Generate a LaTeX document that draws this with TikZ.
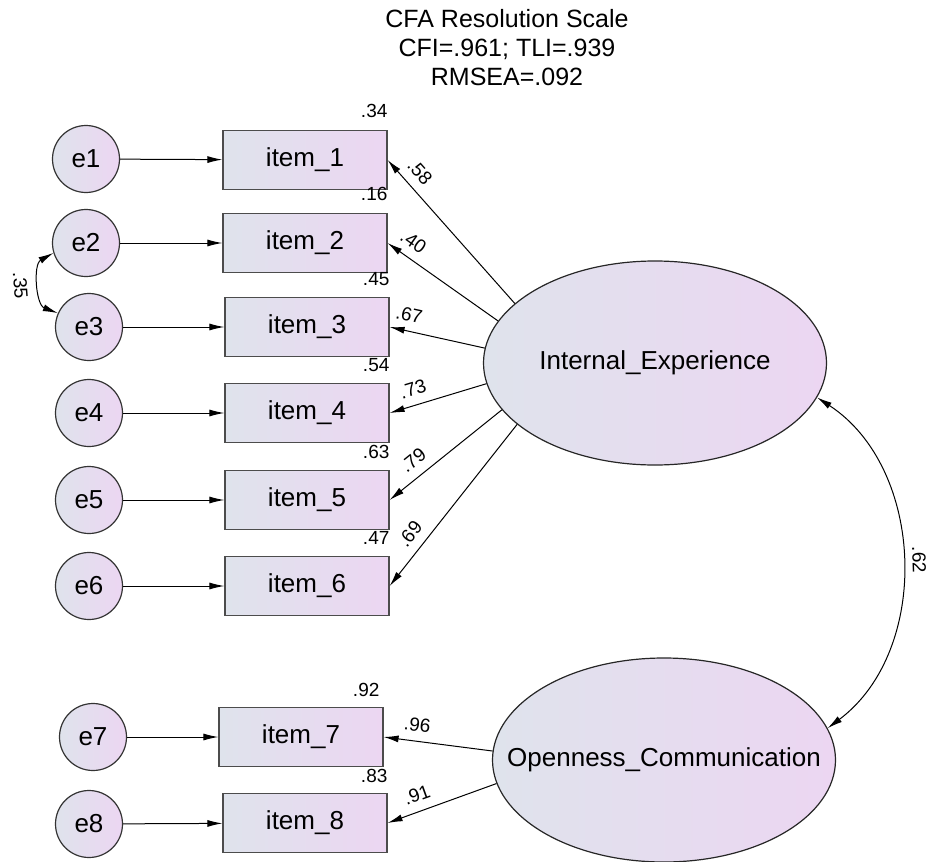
\documentclass[tikz,border=0pt]{standalone}
\usepackage{fontspec}
\setmainfont{Liberation Sans}
\usetikzlibrary{shapes.geometric,arrows.meta}
\definecolor{shadeleft}{RGB}{223,227,236}
\definecolor{shaderight}{RGB}{236,214,242}
\begin{document}
\begin{tikzpicture}[x=1pt,y=1pt,
  err/.style={circle, draw=black!80, line width=1.2pt, minimum size=67pt, inner sep=0pt,
    left color=shadeleft, right color=shaderight, font=\fontsize{26}{30}\selectfont},
  item/.style={rectangle, draw=black!70, line width=1.2pt, minimum width=164pt, minimum height=59pt,
    inner sep=0pt, left color=shadeleft, right color=shaderight, font=\fontsize{26}{30}\selectfont},
  latent/.style={ellipse, draw=black!85, line width=1.2pt, minimum width=343pt, minimum height=204pt,
    inner sep=0pt, left color=shadeleft, right color=shaderight},
  every label/.style={font=\fontsize{26}{30}\selectfont},
  load/.style={-{Latex[length=15pt,width=7pt]}, line width=1pt},
  cov/.style={{Latex[length=15pt,width=7pt]}-{Latex[length=15pt,width=7pt]}, line width=1pt},
  coef/.style={font=\fontsize{19}{22}\selectfont, inner sep=0pt},
  title/.style={align=center, font=\fontsize{25}{29}\selectfont}]
\useasboundingbox (0,0) rectangle (940,-862);
\node[title] (head) at (507,-48) {CFA Resolution Scale\\CFI=.961; TLI=.939\\RMSEA=.092};
% error terms
\node[err] (e1) at (86,-159) {e1};
\node[err] (e2) at (86,-243) {e2};
\node[err] (e3) at (89,-327) {e3};
\node[err] (e4) at (89,-413) {e4};
\node[err] (e5) at (89,-500) {e5};
\node[err] (e6) at (89,-586) {e6};
\node[err] (e7) at (93,-737) {e7};
\node[err] (e8) at (89,-824) {e8};
% observed items
\node[item] (item1) at (305,-160) {item\_1};
\node[item] (item2) at (305,-243) {item\_2};
\node[item] (item3) at (307,-327) {item\_3};
\node[item] (item4) at (307,-413) {item\_4};
\node[item] (item5) at (307,-500) {item\_5};
\node[item] (item6) at (307,-586) {item\_6};
\node[item] (item7) at (301,-737) {item\_7};
\node[item] (item8) at (305,-823) {item\_8};
% latent factors
\node[latent, label=center:Internal\_Experience] (IE) at (655,-363) {};
\node[latent, label=center:Openness\_Communication] (OC) at (664,-760) {};
% squared multiple correlations
\node[coef, anchor=south east] (r1) at ([yshift=12pt]item1.north east) {.34};
\node[coef, anchor=south east] (r2) at ([yshift=12pt]item2.north east) {.16};
\node[coef, anchor=south east] (r3) at ([yshift=11pt]item3.north east) {.45};
\node[coef, anchor=south east] (r4) at ([yshift=11pt]item4.north east) {.54};
\node[coef, anchor=south east] (r5) at ([yshift=11pt]item5.north east) {.63};
\node[coef, anchor=south east] (r6) at ([yshift=11pt]item6.north east) {.47};
\node[coef, anchor=south east] (r7) at ([xshift=-4pt,yshift=10pt]item7.north east) {.92};
\node[coef, anchor=south east] (r8) at ([yshift=10pt]item8.north east) {.83};
% errors to items
\draw[load] (e1) -- (item1);
\draw[load] (e2) -- (item2);
\draw[load] (e3) -- (item3);
\draw[load] (e4) -- (item4);
\draw[load] (e5) -- (item5);
\draw[load] (e6) -- (item6);
\draw[load] (e7) -- (item7);
\draw[load] (e8) -- (item8);
% factor loadings
\draw[load] (IE.157) -- node[coef, pos=.84, sloped, above=9pt] {.58} (item1.east);
\draw[load] (IE.165) -- node[coef, pos=.85, sloped, above=9pt] {.40} (item2.east);
\draw[load] (IE.175) -- node[coef, pos=.83, sloped, above=9pt] {.67} (item3.east);
\draw[load] (IE.187) -- node[coef, pos=.71, sloped, above=9pt] {.73} (item4.east);
\draw[load] (IE.197) -- node[coef, pos=.70, sloped, above=9pt] {.79} (item5.east);
\draw[load] (IE.204) -- node[coef, pos=.74, sloped, above=9pt] {.69} (item6.east);
\draw[load] (OC.177) -- node[coef, pos=.71, sloped, above=9pt] {.96} (item7.east);
\draw[load] (OC.188) -- node[coef, pos=.68, sloped, above=9pt] {.91} (item8.east);
% covariances
\draw[cov] (e2.197) to[bend right=65] node[coef, midway, sloped, below=12pt] {.35} (e3.156);
\draw[cov] (IE.348) to[bend left=55] node[coef, midway, sloped, above=10pt] {.62} (OC.11);
\end{tikzpicture}
\end{document}
